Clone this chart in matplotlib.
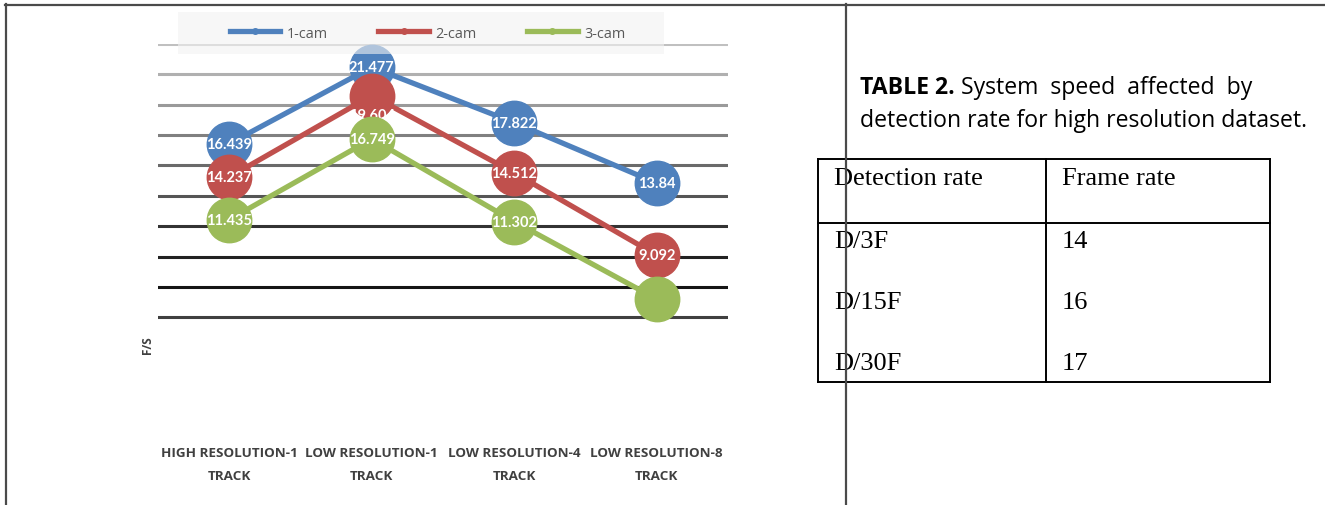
import numpy as np
import matplotlib
matplotlib.use('Agg')
import matplotlib.pyplot as plt
from matplotlib.patches import Rectangle

# Frame rate (F/S) per tracking setup and number of cameras
categories = ['HIGH RESOLUTION-1\nTRACK', 'LOW RESOLUTION-1\nTRACK',
              'LOW RESOLUTION-4\nTRACK', 'LOW RESOLUTION-8\nTRACK']
cam1 = [16.439, 21.477, 17.822, 13.84]
cam2 = [14.237, 19.604, 14.512, 9.092]
cam3 = [11.435, 16.749, 11.302, 6.2]
cam1_labels = ['16.439', '21.477', '17.822', '13.84']
cam2_labels = ['14.237', '19.604', '14.512', '9.092']
cam3_labels = ['11.435', '16.749', '11.302', None]
series_names = ['1-cam', '2-cam', '3-cam']

# table beside the chart
table_header = ['Detection rate', 'Frame rate']
detection_rates = ['D/3F', 'D/15F', 'D/30F']
frame_rates = ['14', '16', '17']

W, H = 1325, 506
fig = plt.figure(figsize=(W / 100, H / 100), dpi=100)


def fx(px):
    return px / W


def fy(py):
    return 1 - py / H


# chart axes in pixel terms: left 158, right 728, top 45 (=23), bottom 440
ax = fig.add_axes([fx(158), fy(440), fx(728 - 158), (440 - 45) / H])
top_val, px_per_unit = 23, (318.3 - 45) / 18
ax.set_ylim(top_val - (440 - 45) / px_per_unit, top_val)
ax.set_xlim(-0.5, 3.5)
for s in ax.spines.values():
    s.set_visible(False)
ax.set_yticks([])

# gridlines shade from light grey at the top to near black at the bottom
grid_vals = np.arange(23, 4, -2)
grid_cols = ['#c0c0c0', '#b0b0b0', '#9a9a9a', '#808080', '#6a6a6a',
             '#555555', '#333333', '#222222', '#151515', '#404040']
for v, c in zip(grid_vals, grid_cols):
    ax.axhline(v, color=c, lw=2.2, zorder=1)

x = np.arange(len(categories))
colors = ['#4f81bd', '#c0504d', '#9bbb59']
all_vals = [cam1, cam2, cam3]
all_labels = [cam1_labels, cam2_labels, cam3_labels]
lbl_font = dict(family='Lato', fontweight='bold', fontsize=10.5, color='white')

z = 3
for vals, labs, col, name in zip(all_vals, all_labels, colors, series_names):
    ax.plot(x, vals, color=col, lw=3.8, marker='o', ms=32, mec=col,
            clip_on=False, zorder=z, label=name)
    for xi, v, t in zip(x, vals, labs):
        if t is None:
            continue
        # the 19.604 label sits below its marker
        dy = -19 if t == '19.604' else 0
        ax.annotate(t, (xi, v), xytext=(0, dy), textcoords='offset pixels',
                    ha='center', va='center', zorder=z + 0.5, **lbl_font)
    z += 1

ax.set_xticks(x)
ax.set_xticklabels(categories, fontfamily='Open Sans', fontweight='bold',
                   fontsize=9.7, color='#404040', linespacing=2.0)
ax.tick_params(axis='x', length=0, pad=5)

fig.text(fx(147), fy(345), 'F/S', rotation=90, ha='center', va='center',
         family='Open Sans', fontweight='bold', fontsize=8.5, color='#404040')

# legend strip across the top of the chart: translucent band + entries
fig.add_artist(Rectangle((fx(178), fy(55)), fx(664 - 178), (55 - 13) / H,
                         transform=fig.transFigure, facecolor='#f2f2f2',
                         alpha=0.6, lw=0, zorder=10))
handles = [plt.Line2D([], [], color=c, lw=3.8, marker='o', ms=4) for c in colors]
leg = fig.legend(handles, series_names, loc='center', ncol=3,
                 bbox_to_anchor=(fx(427.5), fy(34)), frameon=False,
                 prop=dict(family='Open Sans', size=10.4), handlelength=3.5,
                 handletextpad=0.45, columnspacing=3.5, borderpad=0,
                 borderaxespad=0)
leg.set_zorder(11)
for t in leg.get_texts():
    t.set_color('#595959')

# page frame lines
frame_col = '#4a4a4a'
fig.add_artist(plt.Line2D([fx(5), 1], [fy(5.5), fy(5.5)], color=frame_col, lw=1.6))
fig.add_artist(plt.Line2D([fx(5.5), fx(5.5)], [fy(5), 0], color=frame_col, lw=1.6))

# caption
cap = dict(family='Open Sans', fontsize=16.6, color='black')
t1 = fig.text(fx(860), fy(88), 'TABLE 2.', va='center', ha='left',
              fontweight='bold', **cap)
ann = plt.Annotation('System  speed  affected  by', xy=(1, 0), xycoords=t1,
                     xytext=(6, 0), textcoords='offset pixels',
                     va='bottom', ha='left', **cap)
fig.add_artist(ann)
fig.text(fx(860), fy(121), 'detection rate for high resolution dataset.',
         va='center', ha='left', **cap)

# table grid
tab_l, tab_r, tab_mid = 818, 1270, 1046
tab_t, tab_h, tab_b = 160, 224, 383
tcol = 'black'
for yy in (tab_t, tab_h, tab_b):
    fig.add_artist(plt.Line2D([fx(tab_l), fx(tab_r)], [fy(yy), fy(yy)], color=tcol, lw=1.4))
for xx in (tab_l, tab_mid, tab_r):
    fig.add_artist(plt.Line2D([fx(xx), fx(xx)], [fy(tab_t), fy(tab_b)], color=tcol, lw=1.4))

tfont = dict(family='Liberation Serif', fontsize=19, color='black', va='center', ha='left')
fig.text(fx(834), fy(179), table_header[0], **tfont)
fig.text(fx(1062), fy(179), table_header[1], **tfont)
row_y = [242, 303, 364]
for yy, d, f in zip(row_y, detection_rates, frame_rates):
    fig.text(fx(834), fy(yy), d, **tfont)
    fig.text(fx(1062), fy(yy), f, **tfont)

# vertical frame line passes over the table
fig.add_artist(plt.Line2D([fx(846), fx(846)], [1 - 5 / H, 0], color=frame_col, lw=1.6,
                          zorder=20))

fig.savefig('out.png', dpi=100)
